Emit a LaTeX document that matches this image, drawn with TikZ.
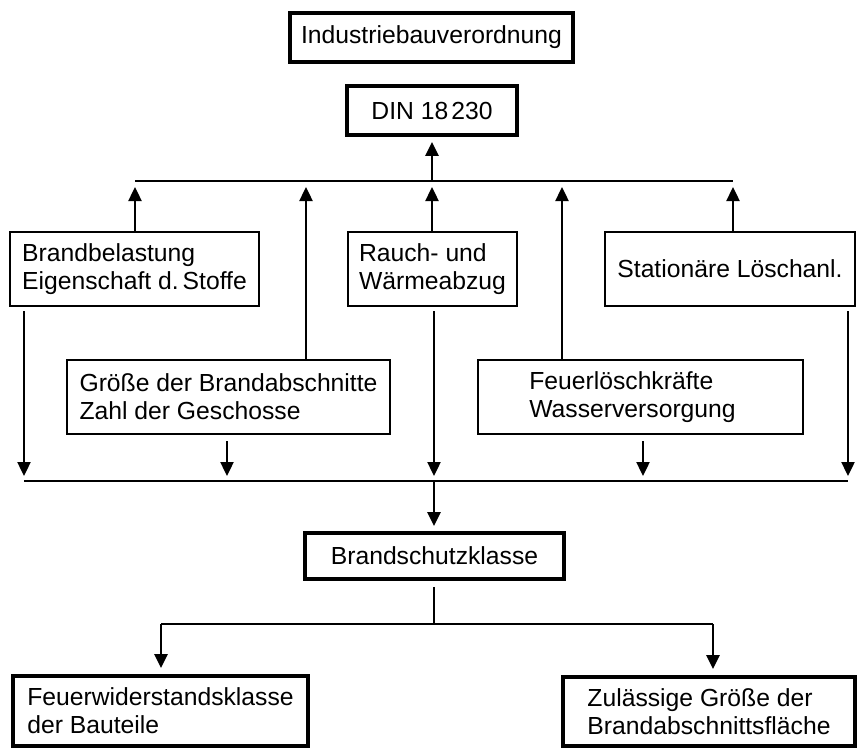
\documentclass[tikz,border=0pt]{standalone}
\usepackage{fontspec}
\setmainfont{Liberation Sans}
\usetikzlibrary{arrows.meta}
\begin{document}
\begin{tikzpicture}[x=1bp,y=-1bp,
  every node/.style={font=\fontsize{24.7bp}{28bp}\selectfont, inner sep=0pt, align=left},
  thinbox/.style={draw, line width=2.3bp, rectangle},
  thickbox/.style={draw, line width=3.8bp, rectangle},
  conn/.style={line width=2.4bp},
  arr/.style={line width=2.4bp, -{Triangle[width=13bp,length=14bp]}}]
\useasboundingbox (0,0) rectangle (857,748);
% nodes
\node[thickbox, minimum width=283bp, minimum height=49bp] (ind) at (431.5,37.5) {Industriebauverordnung};
\node[thickbox, minimum width=170bp, minimum height=49bp] (din) at (432,110.5) {DIN 18\kern3bp 230};
\node[thinbox, minimum width=249bp, minimum height=74bp] (brand) at (134.5,269) {Brandbelastung\\Eigenschaft d.\kern4bp Stoffe};
\node[thinbox, minimum width=169bp, minimum height=74bp] (rauch) at (432.5,269) {Rauch- und\\Wärmeabzug};
\node[thinbox, minimum width=250bp, minimum height=74bp] (stat) at (730,269) {Stationäre Löschanl.};
\node[thinbox, minimum width=323bp, minimum height=74bp] (groesse) at (228.5,397) {Größe der Brandabschnitte\\Zahl der Geschosse};
\node[thinbox, minimum width=325bp, minimum height=74bp] (feuer) at (640.5,397) {Feuerlöschkräfte\\Wasserversorgung\hspace*{16bp}};
\node[thickbox, minimum width=259bp, minimum height=46bp] (bsk) at (434.5,556) {Brandschutzklasse};
\node[thickbox, minimum width=295bp, minimum height=70bp] (fwk) at (160.5,711) {Feuerwiderstandsklasse\\der Bauteile};
\node[thickbox, minimum width=292bp, minimum height=69bp] (zul) at (709,711.5) {Zulässige Größe der\\Brandabschnittsfläche};
% top bus
\coordinate (t1) at (135,181);
\coordinate (t2) at (306,181);
\coordinate (t3) at (432,181);
\coordinate (t4) at (562,181);
\coordinate (t5) at (733,181);
\draw[conn] (t1) -- (t5);
\draw[arr, shorten >=5bp] (t3) -- (din.south);
\draw[arr, shorten >=6bp] (brand.north -| t1) -- (t1);
\draw[arr, shorten >=6bp] (groesse.north -| t2) -- (t2);
\draw[arr, shorten >=6bp] (rauch.north -| t3) -- (t3);
\draw[arr, shorten >=6bp] (feuer.north -| t4) -- (t4);
\draw[arr, shorten >=6bp] (stat.north -| t5) -- (t5);
% bottom bus
\coordinate (b1) at (24,481);
\coordinate (b2) at (227,481);
\coordinate (b3) at (434,481);
\coordinate (b4) at (643,481);
\coordinate (b5) at (848,481);
\draw[line width=2.8bp] (b1) -- (b5);
\draw[arr, shorten <=4bp, shorten >=5bp] (brand.south -| b1) -- (b1);
\draw[arr, shorten <=6bp, shorten >=5bp] (groesse.south -| b2) -- (b2);
\draw[arr, shorten <=4bp, shorten >=5bp] (rauch.south -| b3) -- (b3);
\draw[arr, shorten <=6bp, shorten >=5bp] (feuer.south -| b4) -- (b4);
\draw[arr, shorten <=4bp, shorten >=5bp] (stat.south -| b5) -- (b5);
\draw[arr, shorten >=5bp] (b3) -- (b3 |- bsk.north);
% lower split
\coordinate (s0) at (434,624);
\coordinate (s1) at (161,624);
\coordinate (s2) at (713,624);
\draw[conn, shorten <=6bp] (bsk.south -| s0) -- (s0);
\draw[conn] (s1) -- (s2);
\draw[arr, shorten >=6bp] (s1) -- (s1 |- fwk.north);
\draw[arr, shorten >=6bp] (s2) -- (s2 |- zul.north);
\end{tikzpicture}
\end{document}
